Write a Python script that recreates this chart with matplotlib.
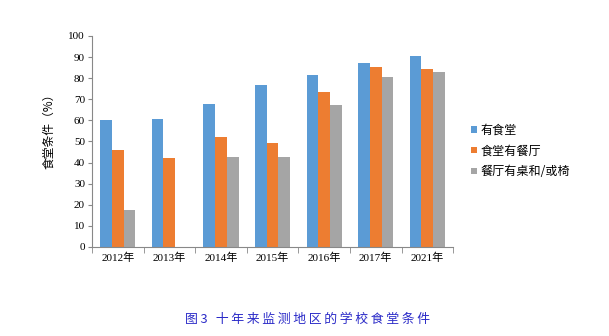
import numpy as np
import matplotlib
matplotlib.use("Agg")
import matplotlib.pyplot as plt

plt.rcParams["font.family"] = ["Liberation Serif", "Noto Sans CJK SC"]

years = ["2012年", "2013年", "2014年", "2015年", "2016年", "2017年", "2021年"]
has_canteen = [60.2, 60.7, 67.8, 76.8, 81.5, 87.3, 90.7]
canteen_dining = [46.0, 42.3, 52.3, 49.3, 73.6, 85.3, 84.4]
dining_tables = [17.5, 0, 42.8, 42.8, 67.3, 80.6, 82.9]
series_names = ["有食堂", "食堂有餐厅", "餐厅有桌和/或椅"]
colors = ["#5B9BD5", "#ED7D31", "#A5A5A5"]
title = "图3 十年来监测地区的学校食堂条件"

fig = plt.figure(figsize=(6.09, 3.36), dpi=100)
ax = fig.add_axes([0.151, 0.265, 0.593, 0.628])

x = np.arange(len(years))
w = 0.227
for i, (vals, name, c) in enumerate(zip([has_canteen, canteen_dining, dining_tables], series_names, colors)):
    ax.bar(x + (i - 1) * w, vals, w, color=c, label=name)

ax.set_xlim(-0.5, len(years) - 0.5)
ax.set_ylim(0, 100)
ax.set_yticks(range(0, 101, 10))
ax.set_xticks(x)
ax.set_xticklabels(years, fontsize=8)
ax.set_xticks(np.arange(-0.5, len(years)), minor=True)
ax.tick_params(axis="x", which="major", length=0, pad=4)
ax.tick_params(axis="x", which="minor", length=4, color="#888888")
ax.tick_params(axis="y", labelsize=8, length=3, color="#888888", pad=2)
for s in ["top", "right"]:
    ax.spines[s].set_visible(False)
for s in ["left", "bottom"]:
    ax.spines[s].set_color("#888888")

ax.set_ylabel("食堂条件（%）", fontsize=8.5, family=["Noto Sans CJK SC"])
ax.yaxis.set_label_coords(-0.10, 0.56)

ax.legend(loc="center left", bbox_to_anchor=(1.02, 0.455), frameon=False,
          prop={"family": "Noto Sans CJK SC", "size": 8.7},
          handlelength=0.45, handleheight=0.45, handletextpad=0.3, labelspacing=0.65)

spaced = "\u2009".join(title)
fig.text(0.505, 0.05, spaced, ha="center", va="center",
         fontsize=9.3, color="#2B2BC8", family=["Noto Sans CJK SC", "DejaVu Sans"])

fig.savefig("out.png", dpi=100)
